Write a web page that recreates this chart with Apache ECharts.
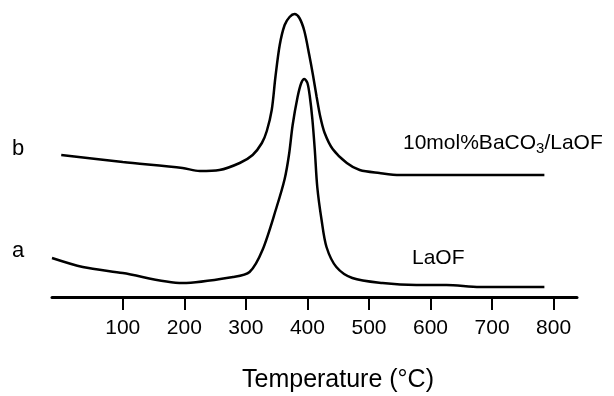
<!DOCTYPE html>
<html>
<head>
<meta charset="utf-8">
<script src="https://cdn.jsdelivr.net/npm/echarts@6/dist/echarts.min.js"></script>
<style>
  html, body { margin: 0; padding: 0; background: #fff; }
  #chart { width: 614px; height: 396px; }
</style>
</head>
<body>
<div id="chart"></div>
<script>
// tick marks on the temperature axis
const tickValues = [100, 200, 300, 400, 500, 600, 700, 800];

// curve a: LaOF (temperature, signal in arbitrary units)
const tempA = [-15, 35, 100, 197, 279, 306, 327, 350, 363, 370, 376, 384, 390, 395, 400, 404, 408, 412, 416, 423, 431, 447, 473, 522, 577, 626, 680, 785];
const signalA = [39, 30, 24, 14, 20, 25, 47, 90, 118, 142, 172, 200, 214, 218, 214, 200, 178, 147, 110, 77, 50, 30, 19, 14, 12, 12, 10, 10];

// curve b: 10mol%BaCO3/LaOF
const tempB = [0, 100, 197, 225, 257, 290, 311, 326, 334, 342, 348, 355, 363, 371, 379, 387, 395, 403, 409, 415, 421, 428, 441, 464, 485, 517, 550, 600, 680, 785];
const signalB = [142, 135, 129, 126, 127, 134, 142, 154, 166, 187, 220, 252, 272, 280, 283, 279, 266, 242, 222, 200, 180, 164, 148, 134, 127, 124, 122, 122, 122, 122];

const font = "'Liberation Sans', Arial, Helvetica, sans-serif";

const pairs = (xs, ys) => xs.map((x, i) => [x, ys[i]]);

const chart = echarts.init(document.getElementById('chart'));

const lineStyle = { color: '#000', width: 2.5 };

chart.setOption({
  animation: false,
  backgroundColor: '#fff',
  grid: { left: 52, right: 37, top: 0, bottom: 99 },
  xAxis: {
    type: 'value',
    min: -15,
    max: 838,
    axisLine: { lineStyle: { color: '#000', width: 3 } },
    axisTick: {
      customValues: tickValues,
      length: 13,
      lineStyle: { color: '#000', width: 2 }
    },
    axisLabel: {
      customValues: tickValues,
      margin: 21,
      color: '#000',
      fontSize: 21,
      fontFamily: font
    },
    splitLine: { show: false }
  },
  yAxis: {
    type: 'value',
    min: 0,
    max: 297,
    show: false
  },
  series: [
    {
      name: 'a',
      type: 'line',
      data: pairs(tempA, signalA),
      showSymbol: false,
      smooth: 0.3,
      lineStyle: lineStyle
    },
    {
      name: 'b',
      type: 'line',
      data: pairs(tempB, signalB),
      showSymbol: false,
      smooth: 0.3,
      lineStyle: lineStyle
    }
  ],
  graphic: [
    { type: 'text', left: 12, top: 138, style: { text: 'b', fill: '#000', font: '22px ' + font } },
    { type: 'text', left: 12, top: 240, style: { text: 'a', fill: '#000', font: '22px ' + font } },
    {
      type: 'text', left: 403, top: 133,
      style: {
        text: '10mol%BaCO{sub|3}/LaOF',
        fill: '#000',
        font: '21px ' + font,
        rich: { sub: { fontSize: 15, fontFamily: font, padding: [10, 0, 0, 0], fill: '#000' } }
      }
    },
    { type: 'text', left: 412, top: 248, style: { text: 'LaOF', fill: '#000', font: '21px ' + font } },
    { type: 'text', left: 242, top: 368, style: { text: 'Temperature (°C)', fill: '#000', font: '25px ' + font } }
  ]
});
</script>
</body>
</html>
